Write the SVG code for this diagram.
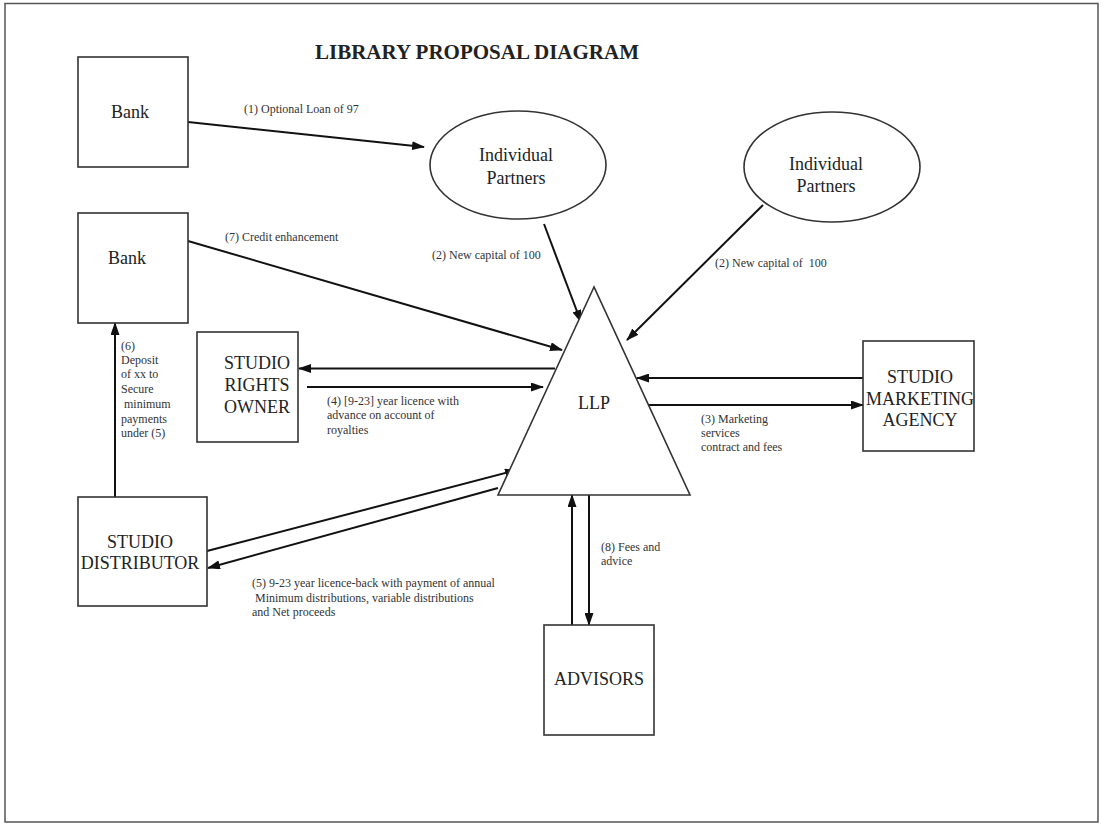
<svg xmlns="http://www.w3.org/2000/svg" width="1102" height="827" viewBox="0 0 1102 827">
<defs>
<marker id="arr" markerUnits="userSpaceOnUse" markerWidth="13" markerHeight="9" refX="12" refY="4.5" orient="auto">
<path d="M0,0 L13,4.5 L0,9 z" fill="#111"/>
</marker>
<style>
.box{fill:#fff;stroke:#333;stroke-width:1.6}
.n{font-family:"Liberation Serif","Times New Roman",serif;font-size:18px;fill:#222;text-anchor:middle}
.l{font-family:"Liberation Serif","Times New Roman",serif;font-size:12px;fill:#333}
.c{stroke:#111;stroke-width:2;fill:none;marker-end:url(#arr)}
.t{font-family:"Liberation Serif","Times New Roman",serif;font-size:21px;font-weight:bold;fill:#222}
</style>
</defs>
<rect x="0" y="0" width="1102" height="827" fill="#fff"/>
<rect x="5" y="3.5" width="1093" height="818.5" fill="none" stroke="#555" stroke-width="1.5"/>
<text class="t" x="315" y="59">LIBRARY PROPOSAL DIAGRAM</text>

<g id="connectors">
<line class="c" x1="188" y1="122" x2="424" y2="147"/>
<line class="c" x1="188" y1="241" x2="562" y2="350"/>
<line class="c" x1="544" y1="224" x2="581" y2="322"/>
<line class="c" x1="763" y1="205" x2="627" y2="340"/>
<line class="c" x1="555" y1="368.5" x2="299" y2="368.5"/>
<line class="c" x1="307" y1="387" x2="543" y2="387"/>
<line class="c" x1="863" y1="378" x2="637" y2="378"/>
<line class="c" x1="645" y1="405" x2="863" y2="405"/>
<line class="c" x1="115" y1="497" x2="115" y2="323"/>
<line class="c" x1="207" y1="551" x2="517" y2="470"/>
<line class="c" x1="498" y1="488" x2="208" y2="568"/>
<line class="c" x1="572" y1="625" x2="572" y2="495"/>
<line class="c" x1="589" y1="495" x2="589" y2="625"/>
<text class="l" x="244" y="113">(1) Optional Loan of 97</text>
<text class="l" x="225" y="241">(7) Credit enhancement</text>
<text class="l" x="432" y="259">(2) New capital of 100</text>
<text class="l" x="715" y="267" xml:space="preserve">(2) New capital of  100</text>
<text class="l" x="327" y="405">(4) [9-23] year licence with</text>
<text class="l" x="327" y="419">advance on account of</text>
<text class="l" x="327" y="434">royalties</text>
<text class="l" x="701" y="423">(3) Marketing</text>
<text class="l" x="701" y="437">services</text>
<text class="l" x="701" y="451">contract and fees</text>
<text class="l" x="121" y="350">(6)</text>
<text class="l" x="121" y="364">Deposit</text>
<text class="l" x="121" y="378">of xx to</text>
<text class="l" x="121" y="393">Secure</text>
<text class="l" x="124" y="408">minimum</text>
<text class="l" x="121" y="423">payments</text>
<text class="l" x="121" y="437">under (5)</text>
<text class="l" x="252" y="587">(5) 9-23 year licence-back with payment of annual</text>
<text class="l" x="255" y="602">Minimum distributions, variable distributions</text>
<text class="l" x="252" y="616">and Net proceeds</text>
<text class="l" x="601" y="551">(8) Fees and</text>
<text class="l" x="601" y="565">advice</text>
</g>

<g id="bank1">
<rect class="box" x="78" y="57" width="110" height="110"/>
<text class="n" x="130" y="118">Bank</text>
</g>
<g id="bank2">
<rect class="box" x="78" y="213" width="110" height="110"/>
<text class="n" x="127" y="264">Bank</text>
</g>
<g id="partners1">
<ellipse class="box" cx="518" cy="165" rx="88" ry="54"/>
<text class="n" x="516" y="161">Individual</text>
<text class="n" x="516" y="184">Partners</text>
</g>
<g id="partners2">
<ellipse class="box" cx="832" cy="167" rx="88" ry="55"/>
<text class="n" x="826" y="170">Individual</text>
<text class="n" x="826" y="192">Partners</text>
</g>
<g id="llp">
<polygon class="box" points="594,287 498,495 690,495" fill="none"/>
<text class="n" x="594" y="409">LLP</text>
</g>
<g id="rights-owner">
<rect class="box" x="197" y="332" width="101" height="110"/>
<text class="n" x="257" y="369">STUDIO</text>
<text class="n" x="257" y="391">RIGHTS</text>
<text class="n" x="257" y="413">OWNER</text>
</g>
<g id="marketing-agency">
<rect class="box" x="863" y="341" width="111" height="110"/>
<text class="n" x="920" y="383">STUDIO</text>
<text class="n" x="920" y="405">MARKETING</text>
<text class="n" x="920" y="426">AGENCY</text>
</g>
<g id="distributor">
<rect class="box" x="78" y="497" width="129" height="109"/>
<text class="n" x="140" y="548">STUDIO</text>
<text class="n" x="140" y="569">DISTRIBUTOR</text>
</g>
<g id="advisors">
<rect class="box" x="544" y="625" width="110" height="110"/>
<text class="n" x="599" y="685">ADVISORS</text>
</g>
</svg>
